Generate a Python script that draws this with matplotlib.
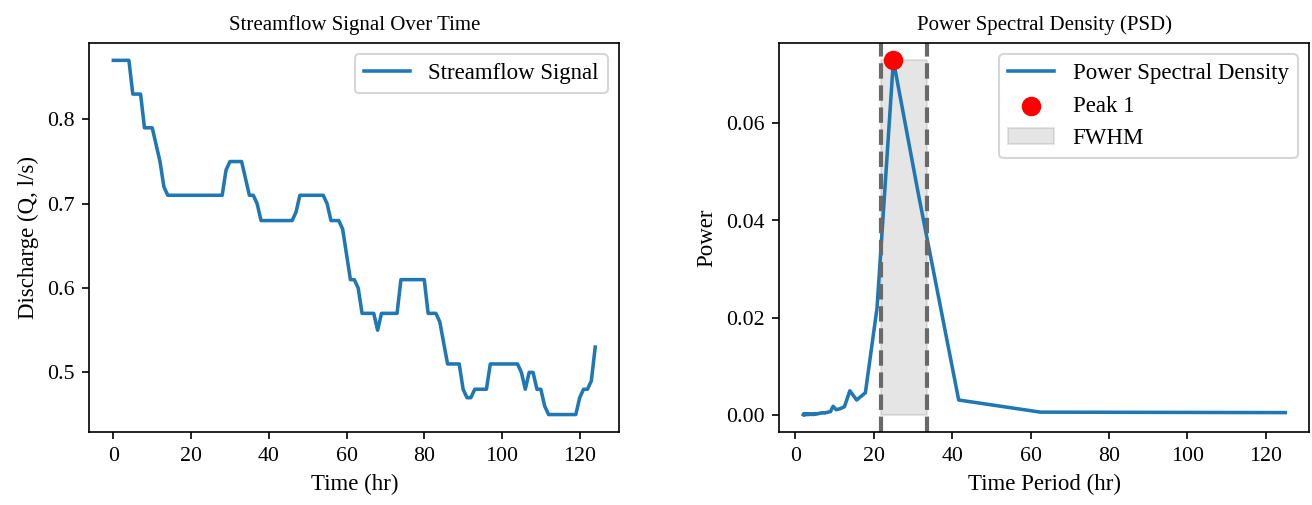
import matplotlib
matplotlib.use("Agg")
import matplotlib.pyplot as plt
import numpy as np

plt.rcParams['font.family'] = ['Liberation Serif', 'DejaVu Serif']
plt.rcParams['xtick.labelsize'] = 10.5
plt.rcParams['ytick.labelsize'] = 10.5

# streamflow signal (hr, l/s) - breakpoints
time_hr = [0, 4, 5, 7, 8, 10, 11, 12, 13, 14, 28, 29, 30, 33, 35, 36, 37, 38,
           46, 47, 48, 54, 55, 56, 58, 59, 61, 62, 63, 64, 67, 68, 69, 73, 74,
           80, 81, 83, 84, 86, 89, 90, 91, 92, 93, 96, 97, 104, 105, 106, 107,
           108, 109, 110, 111, 112, 119, 120, 121, 122, 123, 124]
discharge = [0.87, 0.87, 0.83, 0.83, 0.79, 0.79, 0.77, 0.75, 0.72, 0.71, 0.71,
             0.74, 0.75, 0.75, 0.71, 0.71, 0.70, 0.68, 0.68, 0.69, 0.71, 0.71,
             0.70, 0.68, 0.68, 0.67, 0.61, 0.61, 0.60, 0.57, 0.57, 0.55, 0.57,
             0.57, 0.61, 0.61, 0.57, 0.57, 0.56, 0.51, 0.51, 0.48, 0.47, 0.47,
             0.48, 0.48, 0.51, 0.51, 0.50, 0.48, 0.50, 0.50, 0.48, 0.48, 0.46,
             0.45, 0.45, 0.47, 0.48, 0.48, 0.49, 0.53]

# power spectral density vs period
period_hr = [2.016, 2.049, 2.083, 2.119, 2.155, 2.193, 2.232, 2.273, 2.315,
             2.358, 2.404, 2.451, 2.5, 2.551, 2.604, 2.66, 2.717, 2.778, 2.841,
             2.907, 2.976, 3.049, 3.125, 3.205, 3.289, 3.378, 3.472, 3.571,
             3.676, 3.788, 3.906, 4.032, 4.167, 4.31, 4.464, 4.63, 4.808, 5.0,
             5.208, 5.435, 5.682, 5.952, 6.25, 6.579, 6.944, 7.353, 7.813,
             8.333, 8.929, 9.615, 10.417, 11.364, 12.5, 13.889, 15.625, 17.857,
             20.833, 25.0, 31.25, 41.667, 62.5, 125.0]
power = [0.0000, 0.0001, 0.0000, 0.0001, 0.0001, 0.0000, 0.0001, 0.0001,
         0.0000, 0.0001, 0.0001, 0.0001, 0.0000, 0.0001, 0.0001, 0.0000,
         0.0001, 0.0001, 0.0001, 0.0000, 0.0001, 0.0001, 0.0000, 0.0001,
         0.0001, 0.0001, 0.0000, 0.0001, 0.0001, 0.0001, 0.0001, 0.0000,
         0.0001, 0.0001, 0.0001, 0.0000, 0.0001, 0.0002, 0.0001, 0.0001,
         0.0002, 0.0002, 0.0003, 0.0003, 0.0004, 0.0003, 0.0004, 0.0005,
         0.0006, 0.0017, 0.0010, 0.0012, 0.0016, 0.0049, 0.0030, 0.0045,
         0.0220, 0.0730, 0.0460, 0.0030, 0.0005, 0.0004]

peak_period = 25.0
peak_power = 0.0730
fwhm_left = 21.9
fwhm_right = 33.6

fig = plt.figure(figsize=(8.753, 3.367), dpi=150)
ax1 = fig.add_axes([0.068, 0.144, 0.4037, 0.7715])
ax2 = fig.add_axes([0.5935, 0.144, 0.4037, 0.7715])

ax1.plot(time_hr, discharge, linewidth=1.7, label="Streamflow Signal")
ax1.set_title("Streamflow Signal Over Time", fontsize=10)
ax1.set_xlabel("Time (hr)", fontsize=11)
ax1.set_ylabel("Discharge (Q, l/s)", fontsize=11)
ax1.legend(loc="upper right", fontsize=11)

ax2.plot(period_hr, power, linewidth=1.7, label="Power Spectral Density")
ax2.scatter([peak_period], [peak_power], color="red", s=70, zorder=3, label="Peak 1")
ax2.axvline(fwhm_left, color="dimgray", linestyle="--", linewidth=2)
ax2.axvline(fwhm_right, color="dimgray", linestyle="--", linewidth=2)
ax2.fill_between([fwhm_left, fwhm_right], 0, peak_power, color="gray", alpha=0.2, label="FWHM")
ax2.set_title("Power Spectral Density (PSD)", fontsize=10)
ax2.set_xlabel("Time Period (hr)", fontsize=11)
ax2.set_ylabel("Power", fontsize=11)
ax2.set_xticks([0, 20, 40, 60, 80, 100, 120])
ax2.set_yticks([0.0, 0.02, 0.04, 0.06])
ax2.legend(loc="upper right", fontsize=11)

fig.savefig("out.png", dpi=150)
